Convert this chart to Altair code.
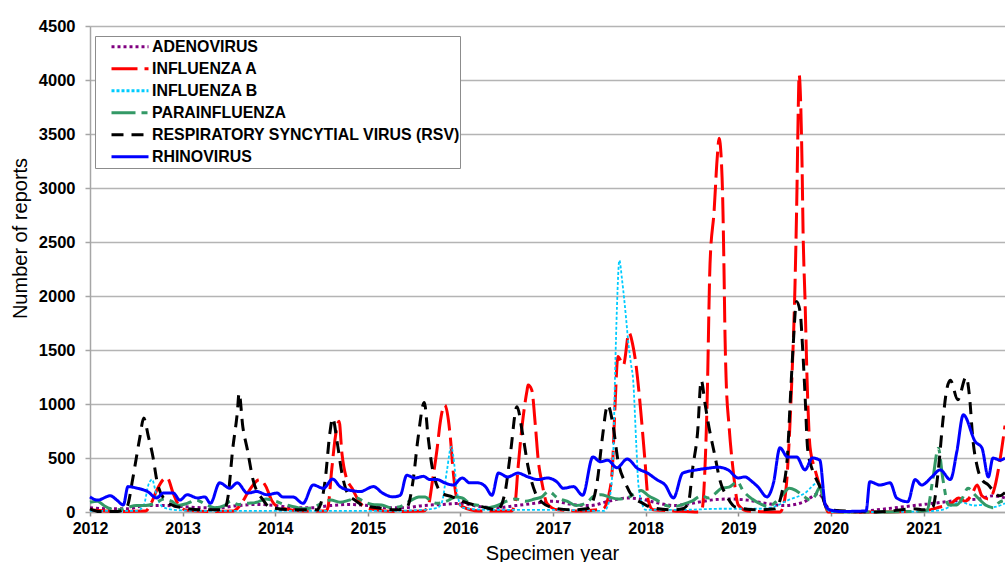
import altair as alt
import pandas as pd

SERIES = ["ADENOVIRUS", "INFLUENZA A", "INFLUENZA B", "PARAINFLUENZA",
          "RESPIRATORY SYNCYTIAL VIRUS (RSV)", "RHINOVIRUS"]
COLORS = ["#800080", "#ff0000", "#00ccff", "#339966", "#000000", "#0000ff"]
DASHES = [[3, 3], [26, 7], [3, 2], [24, 6, 6, 6], [12, 8], [1, 0]]

YEAR_TICKS = list(range(2012, 2022))
REPORT_TICKS = list(range(0, 4501, 500))

# (decimal year, reports)
ADENO = [(2012.00, 40), (2012.20, 30), (2012.40, 30), (2012.60, 60), (2012.80, 60),
         (2013.00, 50), (2013.20, 40), (2013.40, 40), (2013.60, 60), (2013.80, 70),
         (2014.00, 60), (2014.20, 40), (2014.40, 40), (2014.60, 60), (2014.80, 70),
         (2015.00, 60), (2015.20, 40), (2015.40, 40), (2015.60, 60), (2015.80, 70),
         (2016.00, 80), (2016.20, 50), (2016.40, 40), (2016.60, 60), (2016.80, 80),
         (2017.00, 100), (2017.20, 70), (2017.40, 60), (2017.60, 100), (2017.80, 130), (2017.95, 120),
         (2018.10, 90), (2018.30, 60), (2018.50, 80), (2018.70, 110), (2018.90, 120),
         (2019.10, 110), (2019.30, 80), (2019.50, 60), (2019.70, 90), (2019.87, 170), (2019.95, 60),
         (2020.00, 10), (2020.30, 0), (2020.40, 10), (2020.60, 30), (2020.80, 50),
         (2021.00, 70), (2021.20, 90), (2021.40, 110), (2021.60, 120), (2021.75, 150), (2021.88, 130)]

FLU_A = [(2012.00, 20), (2012.30, 5), (2012.60, 10), (2012.66, 80), (2012.72, 200), (2012.79, 300),
         (2012.83, 320), (2012.90, 170), (2012.96, 60),
         (2013.05, 15), (2013.30, 5), (2013.55, 10), (2013.62, 60), (2013.72, 200), (2013.83, 300),
         (2013.90, 235), (2013.96, 110),
         (2014.05, 40), (2014.30, 10), (2014.55, 10), (2014.57, 45), (2014.61, 390), (2014.65, 700),
         (2014.69, 840), (2014.72, 545), (2014.765, 325), (2014.83, 220), (2014.92, 80),
         (2015.02, 30), (2015.30, 5), (2015.60, 10), (2015.65, 50), (2015.70, 300), (2015.75, 600),
         (2015.78, 820), (2015.83, 990), (2015.89, 700), (2015.92, 390), (2015.96, 130),
         (2016.02, 50), (2016.20, 10), (2016.55, 10), (2016.59, 80), (2016.62, 390), (2016.665, 790),
         (2016.72, 1130), (2016.73, 1175), (2016.77, 1130), (2016.81, 790), (2016.84, 480),
         (2016.88, 270), (2016.935, 80),
         (2017.05, 20), (2017.30, 10), (2017.54, 30), (2017.60, 150), (2017.64, 400), (2017.67, 1000),
         (2017.70, 1440), (2017.76, 1360), (2017.82, 1660), (2017.86, 1550), (2017.89, 1400),
         (2017.94, 1000), (2017.99, 500),
         (2018.03, 100), (2018.08, 20), (2018.30, 10), (2018.58, 0), (2018.61, 30), (2018.64, 400),
         (2018.663, 1000), (2018.695, 2300), (2018.74, 2800), (2018.771, 3260), (2018.793, 3460),
         (2018.825, 3100), (2018.836, 2730), (2018.847, 2180), (2018.857, 1620), (2018.868, 1250),
         (2018.90, 800), (2018.944, 390),
         (2019.00, 65), (2019.10, 10), (2019.45, 0), (2019.50, 110), (2019.578, 1220), (2019.613, 2120),
         (2019.635, 3050), (2019.646, 3660), (2019.657, 4050), (2019.675, 3750), (2019.689, 3200),
         (2019.70, 2580), (2019.721, 1960), (2019.743, 1220), (2019.775, 600), (2019.83, 390),
         (2019.905, 175), (2019.97, 0),
         (2020.50, 0),
         (2021.00, 10), (2021.15, 40), (2021.30, 80), (2021.38, 130), (2021.45, 100), (2021.52, 160),
         (2021.58, 250), (2021.63, 150), (2021.70, 120), (2021.76, 200), (2021.82, 450), (2021.88, 800)]

FLU_B = [(2012.00, 10), (2012.50, 10), (2012.58, 60), (2012.63, 250), (2012.67, 300), (2012.72, 150),
         (2012.78, 50), (2012.90, 20), (2013.20, 10), (2013.60, 10), (2014.00, 10), (2014.40, 10),
         (2014.80, 10), (2015.20, 10), (2015.60, 20), (2015.75, 40), (2015.80, 90), (2015.855, 390),
         (2015.90, 605), (2015.94, 390), (2015.96, 200), (2016.02, 40), (2016.30, 20), (2016.70, 20),
         (2017.00, 20), (2017.30, 15), (2017.55, 10), (2017.60, 80), (2017.62, 175), (2017.65, 545),
         (2017.67, 1290), (2017.69, 1900), (2017.716, 2330), (2017.745, 2150), (2017.79, 1780),
         (2017.81, 1590), (2017.84, 1380), (2017.865, 1220), (2017.90, 600), (2017.92, 270),
         (2017.96, 80), (2018.00, 20), (2018.40, 20), (2018.80, 30), (2019.20, 30), (2019.37, 45),
         (2019.54, 110), (2019.72, 175), (2019.86, 270), (2019.90, 250), (2019.95, 50), (2020.00, 0),
         (2020.50, 0), (2021.00, 5), (2021.20, 20), (2021.40, 90), (2021.55, 60), (2021.64, 65),
         (2021.75, 45), (2021.88, 80)]

PARA = [(2012.00, 90), (2012.08, 100), (2012.15, 60), (2012.22, 30), (2012.30, 20), (2012.40, 40),
        (2012.50, 60), (2012.60, 60), (2012.70, 80), (2012.80, 120), (2012.88, 100), (2012.95, 60),
        (2013.05, 80), (2013.15, 110), (2013.25, 70), (2013.35, 40), (2013.45, 60), (2013.52, 100),
        (2013.60, 70), (2013.70, 80), (2013.80, 90), (2013.90, 120),
        (2014.00, 100), (2014.10, 70), (2014.20, 50), (2014.30, 30), (2014.40, 40), (2014.50, 80),
        (2014.60, 110), (2014.70, 90), (2014.80, 110), (2014.88, 130), (2014.95, 100),
        (2015.05, 70), (2015.15, 65), (2015.25, 40), (2015.35, 50), (2015.45, 100), (2015.55, 140),
        (2015.62, 140), (2015.68, 100), (2015.75, 80), (2015.85, 100), (2015.95, 140),
        (2016.02, 130), (2016.10, 80), (2016.20, 60), (2016.30, 40), (2016.40, 60), (2016.50, 100),
        (2016.60, 120), (2016.70, 100), (2016.80, 120), (2016.88, 140), (2016.95, 190),
        (2017.05, 130), (2017.15, 100), (2017.25, 60), (2017.35, 80), (2017.45, 150), (2017.52, 160),
        (2017.60, 140), (2017.70, 120), (2017.80, 130), (2017.88, 170), (2017.95, 200),
        (2018.03, 150), (2018.12, 110), (2018.22, 60), (2018.30, 50), (2018.40, 70), (2018.50, 100),
        (2018.60, 150), (2018.68, 130), (2018.75, 170), (2018.82, 220), (2018.90, 230), (2018.99, 280),
        (2019.05, 200), (2019.15, 120), (2019.25, 70), (2019.32, 50), (2019.40, 90), (2019.47, 150),
        (2019.55, 220), (2019.62, 200), (2019.70, 150), (2019.78, 110), (2019.83, 150), (2019.88, 230),
        (2019.93, 80), (2019.98, 10), (2020.10, 0), (2020.50, 0),
        (2021.00, 10), (2021.04, 20), (2021.10, 300), (2021.16, 590), (2021.21, 300), (2021.27, 65),
        (2021.36, 65), (2021.42, 130), (2021.48, 220), (2021.56, 155), (2021.67, 65), (2021.75, 40),
        (2021.82, 90), (2021.88, 110)]

RSV = [(2012.00, 30), (2012.10, 5), (2012.30, 5), (2012.40, 50), (2012.46, 300), (2012.50, 500),
       (2012.54, 700), (2012.58, 870), (2012.63, 700), (2012.68, 510), (2012.72, 300), (2012.81, 110),
       (2012.90, 60),
       (2013.00, 40), (2013.20, 20), (2013.45, 20), (2013.49, 140), (2013.54, 575), (2013.59, 915),
       (2013.61, 1100), (2013.65, 790), (2013.70, 575), (2013.76, 300), (2013.87, 110), (2013.94, 45),
       (2014.20, 20), (2014.45, 20), (2014.50, 100), (2014.54, 300), (2014.59, 730), (2014.62, 870),
       (2014.67, 640), (2014.72, 360), (2014.78, 175), (2014.86, 110), (2014.95, 60),
       (2015.10, 40), (2015.30, 20), (2015.42, 40), (2015.49, 300), (2015.54, 670), (2015.61, 1015),
       (2015.65, 700), (2015.70, 390), (2015.80, 175), (2015.91, 140),
       (2016.05, 90), (2016.23, 50), (2016.40, 20), (2016.48, 175), (2016.54, 545), (2016.61, 975),
       (2016.67, 730), (2016.73, 420), (2016.81, 175), (2016.88, 90),
       (2017.00, 40), (2017.20, 20), (2017.36, 30), (2017.42, 80), (2017.48, 300), (2017.53, 670),
       (2017.59, 990), (2017.65, 790), (2017.70, 480), (2017.78, 270), (2017.86, 140), (2017.97, 80),
       (2018.05, 45), (2018.30, 20), (2018.40, 30), (2018.46, 80), (2018.51, 420), (2018.56, 730),
       (2018.60, 1220), (2018.64, 1010), (2018.67, 850), (2018.75, 510), (2018.80, 300), (2018.88, 140),
       (2018.97, 45),
       (2019.20, 20), (2019.40, 30), (2019.47, 175), (2019.53, 510), (2019.56, 1010), (2019.59, 1500),
       (2019.63, 1950), (2019.67, 1840), (2019.69, 1590), (2019.72, 1100), (2019.75, 575), (2019.80, 390),
       (2019.88, 235), (2019.94, 65), (2019.99, 20),
       (2020.50, 0), (2020.90, 30),
       (2021.00, 20), (2021.10, 45), (2021.16, 390), (2021.21, 850), (2021.25, 1130), (2021.29, 1220),
       (2021.37, 1040), (2021.46, 1250), (2021.50, 1040), (2021.53, 700), (2021.58, 420), (2021.63, 300),
       (2021.70, 250), (2021.75, 200), (2021.82, 150), (2021.88, 180)]

RHINO = [(2012.00, 140), (2012.08, 110), (2012.22, 150), (2012.29, 110), (2012.36, 65), (2012.41, 235),
         (2012.51, 220), (2012.62, 190), (2012.72, 130), (2012.79, 175), (2012.90, 175), (2012.97, 110),
         (2013.05, 160), (2013.16, 130), (2013.24, 140), (2013.30, 80), (2013.40, 270), (2013.51, 220),
         (2013.59, 270), (2013.70, 175), (2013.80, 190), (2013.91, 160),
         (2014.02, 175), (2014.08, 140), (2014.19, 140), (2014.30, 80), (2014.41, 250), (2014.52, 220),
         (2014.62, 305), (2014.70, 235), (2014.81, 200), (2014.92, 190),
         (2015.06, 235), (2015.16, 175), (2015.27, 140), (2015.35, 155), (2015.42, 340), (2015.51, 315),
         (2015.60, 330), (2015.67, 300), (2015.75, 300), (2015.83, 270), (2015.92, 250),
         (2016.02, 315), (2016.10, 270), (2016.19, 270), (2016.27, 235), (2016.34, 155), (2016.41, 360),
         (2016.51, 325), (2016.62, 360), (2016.73, 325), (2016.84, 300), (2016.94, 315),
         (2017.04, 280), (2017.11, 220), (2017.22, 235), (2017.32, 155), (2017.43, 510), (2017.51, 465),
         (2017.59, 480), (2017.69, 410), (2017.80, 490), (2017.91, 405),
         (2018.02, 360), (2018.12, 300), (2018.21, 250), (2018.30, 130), (2018.40, 360), (2018.55, 390),
         (2018.67, 405), (2018.78, 415), (2018.89, 390),
         (2019.00, 315), (2019.07, 325), (2019.15, 280), (2019.21, 235), (2019.31, 140), (2019.38, 270),
         (2019.45, 595), (2019.53, 510), (2019.63, 510), (2019.72, 390), (2019.80, 500), (2019.88, 480),
         (2019.94, 65), (2019.99, 20),
         (2020.10, 5), (2020.38, 10), (2020.42, 280), (2020.53, 250), (2020.64, 270), (2020.71, 130),
         (2020.83, 95), (2020.91, 300), (2020.98, 250),
         (2021.09, 325), (2021.18, 390), (2021.29, 300), (2021.36, 560), (2021.43, 900), (2021.56, 650),
         (2021.63, 595), (2021.70, 325), (2021.75, 500), (2021.83, 480), (2021.88, 500)]

rows = []
for name, pts in zip(SERIES, [ADENO, FLU_A, FLU_B, PARA, RSV, RHINO]):
    for yr, val in pts:
        rows.append({"virus": name, "year": yr, "reports": val})
df = pd.DataFrame(rows)

FONT = "Liberation Sans"

legend = alt.Legend(
    title=None, orient="none", legendX=5, legendY=10,
    symbolType="stroke", symbolSize=1369, symbolStrokeWidth=3,
    labelFont=FONT, labelFontSize=15.9, labelFontWeight="bold", labelColor="black",
    labelOffset=2, symbolOffset=15, padding=0, clipHeight=21.5, rowPadding=0,
    labelLimit=0, strokeColor="#8c8c8c", fillColor="white",
    labelExpr="datum.label + '\u00a0\u00a0\u00a0\u00a0\u00a0'",
)

x_enc = alt.X(
    "year:Q",
    scale=alt.Scale(domain=[2012, 2021.88], nice=False, zero=False),
    axis=alt.Axis(
        values=YEAR_TICKS, format="d", title="Specimen year", grid=False,
        labelFont=FONT, labelFontSize=16, labelFontWeight="bold", labelColor="black",
        labelFlush=False, labelOverlap=False, labelPadding=4,
        tickColor="#8c8c8c", tickSize=4, tickWidth=1.5, domainColor="#a6a6a6", domainWidth=1.5,
        titleFont=FONT, titleFontSize=20, titleFontWeight="normal", titleColor="black",
        titleX=462, titleY=47, titleAlign="center", titleBaseline="alphabetic",
    ),
)
y_enc = alt.Y(
    "reports:Q",
    scale=alt.Scale(domain=[0, 4500], nice=False),
    axis=alt.Axis(
        values=REPORT_TICKS, format="d", title="Number of reports", grid=True,
        gridColor="#b4b4b4", gridWidth=1.6,
        labelFont=FONT, labelFontSize=16.5, labelFontWeight="bold", labelColor="black",
        labelFlush=False, labelPadding=10,
        tickColor="#a6a6a6", tickSize=5, tickWidth=1.5, domainColor="#a6a6a6", domainWidth=1.5,
        titleFont=FONT, titleFontSize=20, titleFontWeight="normal", titleColor="black",
        titleAngle=270, titleX=-70, titleY=212, titleAlign="center", titleBaseline="middle",
    ),
)
color_enc = alt.Color("virus:N", scale=alt.Scale(domain=SERIES, range=COLORS), legend=legend)
dash_enc = alt.StrokeDash("virus:N", scale=alt.Scale(domain=SERIES, range=DASHES), legend=legend)

base = alt.Chart(df).encode(x=x_enc, y=y_enc, color=color_enc, strokeDash=dash_enc)

layer_a = base.transform_filter(
    alt.FieldOneOfPredicate(field="virus", oneOf=SERIES[0:2])
).mark_line(strokeWidth=3, interpolate="monotone", strokeCap="butt")
layer_b = base.transform_filter(
    alt.FieldEqualPredicate(field="virus", equal=SERIES[2])
).mark_line(strokeWidth=1.8, interpolate="monotone", strokeCap="butt")
layer_c = base.transform_filter(
    alt.FieldOneOfPredicate(field="virus", oneOf=SERIES[3:])
).mark_line(strokeWidth=3, interpolate="monotone", strokeCap="butt")

chart = alt.layer(layer_a, layer_b, layer_c).properties(
    width=915, height=486,
    autosize=alt.AutoSizeParams(type="none"),
    padding={"left": 90, "top": 26, "right": 0, "bottom": 50},
    background="white",
).configure_view(stroke=None)

chart.save("out.html", embed_options={"renderer": "svg", "actions": False})
